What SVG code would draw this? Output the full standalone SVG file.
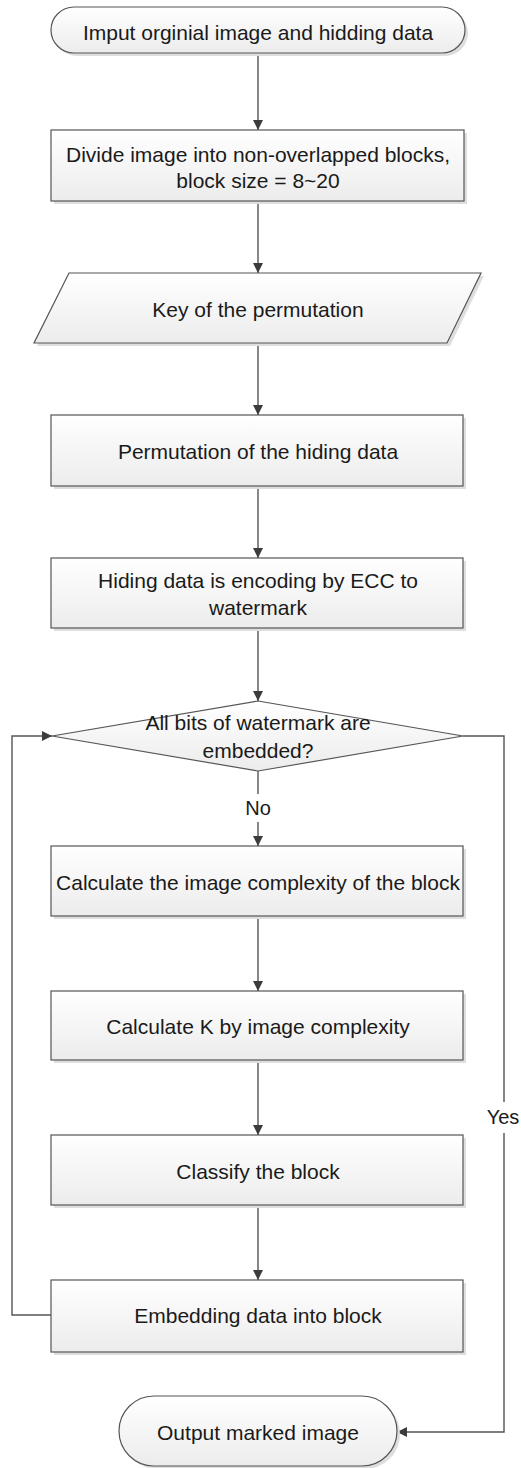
<svg xmlns="http://www.w3.org/2000/svg" width="521" height="1468" viewBox="0 0 521 1468">
  <defs>
    <linearGradient id="fillGrad" x1="0" y1="0" x2="0" y2="1">
      <stop offset="0" stop-color="#ffffff"/>
      <stop offset="1" stop-color="#ececec"/>
    </linearGradient>
    <marker id="arrow" viewBox="0 0 10 10" refX="10" refY="5" markerWidth="10" markerHeight="10" markerUnits="userSpaceOnUse" orient="auto">
      <path d="M0,0 L10,5 L0,10 z" fill="#3c3c3c"/>
    </marker>
    <style>
      .shape { fill: url(#fillGrad); stroke: #555555; stroke-width: 1.2; }
      .shadow { fill: #dedede; stroke: none; }
      .label { font-family: "Liberation Sans", Arial, sans-serif; font-size: 21px; fill: #1a1a1a; text-anchor: middle; dominant-baseline: central; }
      .edge { fill: none; stroke: #555555; stroke-width: 1.4; }
      .edge-label { font-family: "Liberation Sans", Arial, sans-serif; font-size: 20px; fill: #1a1a1a; text-anchor: middle; dominant-baseline: central; }
    </style>
  </defs>

  <rect width="521" height="1468" fill="#ffffff"/>

  <!-- connectors -->
  <g id="connectors">
    <line class="edge" x1="258" y1="53" x2="258" y2="130" marker-end="url(#arrow)"/>
    <line class="edge" x1="258" y1="201" x2="258" y2="273" marker-end="url(#arrow)"/>
    <line class="edge" x1="258" y1="343" x2="258" y2="415" marker-end="url(#arrow)"/>
    <line class="edge" x1="258" y1="486" x2="258" y2="558" marker-end="url(#arrow)"/>
    <line class="edge" x1="258" y1="628" x2="258" y2="701" marker-end="url(#arrow)"/>
    <!-- No branch -->
    <line class="edge" x1="258" y1="771" x2="258" y2="794"/>
    <text class="edge-label" x="258" y="808">No</text>
    <line class="edge" x1="258" y1="822" x2="258" y2="846" marker-end="url(#arrow)"/>
    <line class="edge" x1="258" y1="916" x2="258" y2="991" marker-end="url(#arrow)"/>
    <line class="edge" x1="258" y1="1060" x2="258" y2="1135" marker-end="url(#arrow)"/>
    <line class="edge" x1="258" y1="1205" x2="258" y2="1280" marker-end="url(#arrow)"/>
    <!-- loop back to the decision -->
    <polyline class="edge" points="51,1315 12,1315 12,736 52,736" marker-end="url(#arrow)"/>
    <!-- Yes branch -->
    <polyline class="edge" points="463,736 504,736 504,1102"/>
    <text class="edge-label" x="503" y="1117">Yes</text>
    <polyline class="edge" points="504,1133 504,1432 397,1432" marker-end="url(#arrow)"/>
  </g>

  <g id="start">
    <rect class="shadow" x="54" y="10" width="414" height="46" rx="23"/>
    <rect class="shape" x="51" y="7" width="414" height="46" rx="23"/>
    <text class="label" x="258" y="32">Imput orginial image and hidding data</text>
  </g>

  <g id="divide">
    <rect class="shadow" x="54" y="133" width="413" height="71"/>
    <rect class="shape" x="51" y="130" width="413" height="71"/>
    <text class="label" x="258" y="154">Divide image into non-overlapped blocks,</text>
    <text class="label" x="258" y="180">block size = 8~20</text>
  </g>

  <g id="key">
    <polygon class="shadow" points="72,276 484,276 450,346 37,346"/>
    <polygon class="shape" points="69,273 481,273 447,343 34,343"/>
    <text class="label" x="258" y="309">Key of the permutation</text>
  </g>

  <g id="permute">
    <rect class="shadow" x="54" y="418" width="412" height="71"/>
    <rect class="shape" x="51" y="415" width="412" height="71"/>
    <text class="label" x="258" y="451">Permutation of the hiding data</text>
  </g>

  <g id="encode">
    <rect class="shadow" x="54" y="561" width="412" height="70"/>
    <rect class="shape" x="51" y="558" width="412" height="70"/>
    <text class="label" x="258" y="580">Hiding data is encoding by ECC to</text>
    <text class="label" x="258" y="607">watermark</text>
  </g>

  <g id="decision">
    <polygon class="shape" points="258,701 463,736 258,771 52,736"/>
    <text class="label" x="258" y="722">All bits of watermark are</text>
    <text class="label" x="258" y="750">embedded?</text>
  </g>

  <g id="complexity">
    <rect class="shadow" x="54" y="849" width="412" height="70"/>
    <rect class="shape" x="51" y="846" width="412" height="70"/>
    <text class="label" x="258" y="882">Calculate the image complexity of the block</text>
  </g>

  <g id="calc-k">
    <rect class="shadow" x="54" y="994" width="412" height="69"/>
    <rect class="shape" x="51" y="991" width="412" height="69"/>
    <text class="label" x="258" y="1026">Calculate K by image complexity</text>
  </g>

  <g id="classify">
    <rect class="shadow" x="54" y="1138" width="412" height="70"/>
    <rect class="shape" x="51" y="1135" width="412" height="70"/>
    <text class="label" x="258" y="1171">Classify the block</text>
  </g>

  <g id="embed">
    <rect class="shadow" x="54" y="1283" width="412" height="72"/>
    <rect class="shape" x="51" y="1280" width="412" height="72"/>
    <text class="label" x="258" y="1315">Embedding data into block</text>
  </g>

  <g id="end">
    <rect class="shadow" x="122" y="1399" width="278" height="70" rx="35"/>
    <rect class="shape" x="119" y="1396" width="278" height="70" rx="35"/>
    <text class="label" x="258" y="1432">Output marked image</text>
  </g>
</svg>
